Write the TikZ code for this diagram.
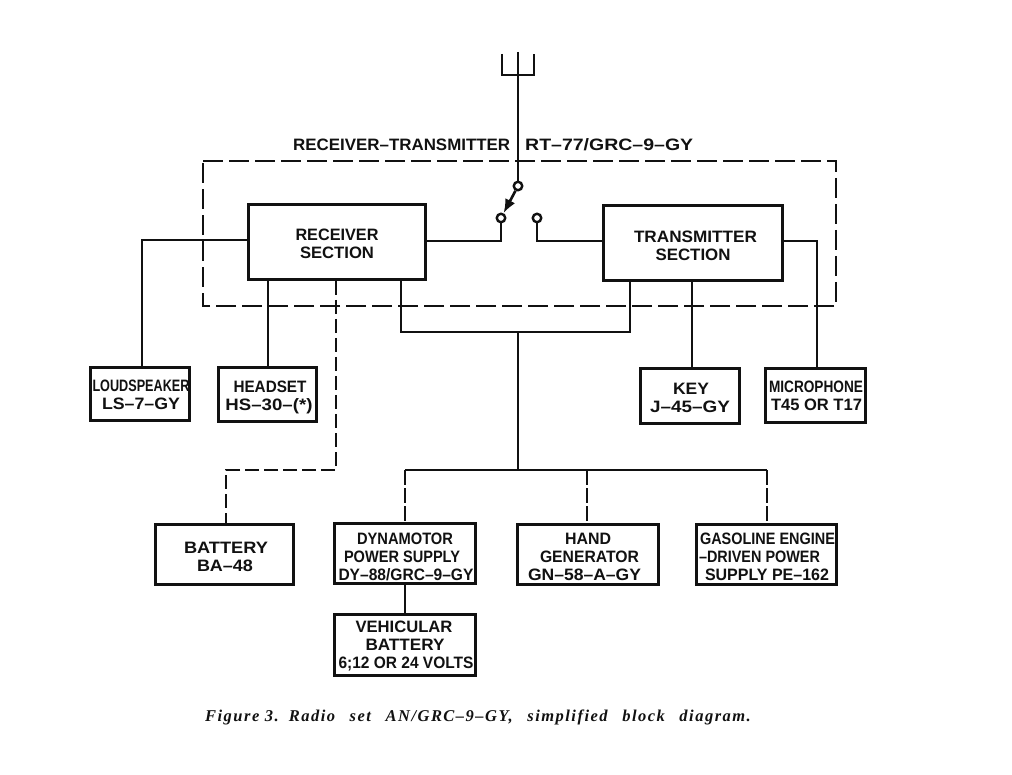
\documentclass[tikz,border=0pt]{standalone}
\usepackage{fontspec}
\usepackage{graphicx}
\setmainfont{Liberation Sans}
\newfontfamily\capfont[LetterSpace=9]{Liberation Serif}
\usetikzlibrary{arrows.meta}
\newcommand\fw[2]{\resizebox{#1pt}{\height}{#2}}
% one centred text line: width, offset from the box centre, text
\newcommand\tline[3]{\makebox[0pt][c]{\hspace*{\dimexpr 2\dimexpr #2pt\relax\relax}\fw{#1}{#3}}}
\definecolor{ink}{HTML}{111111}
\tikzset{
  box/.style={draw=ink,line width=3pt,minimum width=#1,inner sep=0pt,align=center,font=\bfseries\fontsize{16.5}{18}\selectfont,text=ink,anchor=north west},
  wire/.style={draw=ink,line width=2.2pt,line join=miter},
  dashwire/.style={draw=ink,line width=2.2pt,dash pattern=on 14pt off 5pt},
  dashdrop/.style={draw=ink,line width=2pt,dash pattern=on 15pt off 3pt},
  frame/.style={draw=ink,line width=2.6pt,dash pattern=on 20pt off 6pt},
  contact/.style={circle,draw=ink,line width=2.4pt,fill=white,minimum size=8.5pt,inner sep=0pt},
  lbl/.style={text=ink,inner sep=0pt,font=\bfseries\fontsize{16.5}{18}\selectfont}
}
\begin{document}
\begin{tikzpicture}[x=1pt,y=-1pt]
\useasboundingbox (0,0) rectangle (1012,775);
\fill[white] (0,0) rectangle (1012,775);
% enclosure
\coordinate (fa) at (203,161);
\coordinate (fb) at (836,161);
\coordinate (fc) at (836,306);
\coordinate (fd) at (203,306);
\draw[frame] (fa) -- (fb) -- (fc) -- (fd) -- cycle;
\node[lbl,anchor=west] (rtlabel) at (293,145) {\fw{217}{RECEIVER–TRANSMITTER}\hspace{15pt}\fw{168}{RT–77/GRC–9–GY}};
% boxes
\node[box=177pt,minimum height=75pt] (rec) at (247,203) {\rule{0pt}{16pt}\tline{83}{0}{RECEIVER}\\\tline{74}{0}{SECTION}};
\node[box=179pt,minimum height=75pt] (tra) at (602,204) {\rule{0pt}{18pt}\tline{123}{2.5}{TRANSMITTER}\\\tline{75}{0}{SECTION}};
\node[box=99pt,minimum height=53pt] (lsp) at (89,366) {\rule{0pt}{14pt}\tline{97}{1}{LOUDSPEAKER}\\\tline{78}{1}{LS–7–GY}};
\node[box=98pt,minimum height=54pt] (hst) at (217,366) {\rule{0pt}{18pt}\tline{73}{2.5}{HEADSET}\\\tline{87}{1.5}{HS–30–(*)}};
\node[box=99pt,minimum height=55pt] (key) at (639,367) {\rule{0pt}{15pt}\tline{36}{1}{KEY}\\\tline{80}{0}{J–45–GY}};
\node[box=100pt,minimum height=54pt] (mic) at (764,367) {\tline{94}{0.5}{MICROPHONE}\\\tline{91}{1}{T45 OR T17}};
\node[box=138pt,minimum height=60pt] (bat) at (154,523) {\rule{0pt}{16pt}\tline{84}{1.5}{BATTERY}\\\tline{56}{0.5}{BA–48}};
\node[box=141pt,minimum height=60pt] (dyn) at (333,522) {\rule{0pt}{18pt}\tline{96}{0}{DYNAMOTOR}\\\tline{116}{-3}{POWER SUPPLY}\\\tline{135}{1}{DY–88/GRC–9–GY}};
\node[box=141pt,minimum height=60pt] (han) at (516,523) {\rule{0pt}{16pt}\tline{46}{0}{HAND}\\\tline{99}{1.5}{GENERATOR}\\\tline{113}{-3.5}{GN–58–A–GY}};
\node[box=140pt,minimum height=60pt] (gas) at (695,523) {\rule{0pt}{16pt}\tline{135}{1}{GASOLINE ENGINE}\\\tline{121}{-7}{–DRIVEN POWER}\\\tline{124}{0.5}{SUPPLY PE–162}};
\node[box=141pt,minimum height=61pt] (veh) at (333,613) {\rule{0pt}{14pt}\tline{97}{-1}{VEHICULAR}\\\tline{79}{0}{BATTERY}\\\tline{135}{1}{6;12 OR 24 VOLTS}};
% antenna
\coordinate (antl) at (502,54);
\coordinate (antr) at (534,54);
\coordinate (antm) at (518,52);
\draw[wire] (antl) -- (502,75) -- (534,75) -- (antr);
% switch contacts
\node[contact] (sw) at (518,186) {};
\node[contact] (swr) at (501,218) {};
\node[contact] (swt) at (537,218) {};
\draw[wire] (antm) -- (sw);
\draw[wire,line width=2.6pt,-{Latex[length=14pt,width=11pt]}] (sw) -- (swr);
\draw[wire] (rec.east |- 0,241) -- (501,241) -- (swr);
\draw[wire] (tra.west |- 0,241) -- (537,241) -- (swt);
% receiver outputs
\draw[wire] (rec.west |- 0,240) -- (142,240) -- (lsp.north -| 142,0);
\draw[wire] (rec.south -| 268,0) -- (hst.north -| 268,0);
\draw[dashwire] (rec.south -| 336,0) -- (336,470) -- (226,470) -- (bat.north -| 226,0);
% power bus
\draw[wire] (rec.south -| 401,0) -- (401,332) -- (630,332) -- (tra.south -| 630,0);
\coordinate (bus) at (518,470);
\draw[wire] (518,332) -- (bus);
\draw[wire] (405,470) -- (767,470);
\draw[dashdrop] (405,470) -- (dyn.north -| 405,0);
\draw[dashdrop] (587,470) -- (han.north -| 587,0);
\draw[dashdrop] (767,470) -- (gas.north -| 767,0);
\draw[wire] (dyn.south -| 405,0) -- (veh.north -| 405,0);
% transmitter outputs
\draw[wire] (tra.south -| 692,0) -- (key.north -| 692,0);
\draw[wire] (tra.east |- 0,241) -- (817,241) -- (mic.north -| 817,0);
% caption
\node[anchor=base west,inner sep=0pt,text=ink,font=\capfont\bfseries\itshape\fontsize{16.5}{18}\selectfont] (cap) at (205,721) {Figure 3.\hspace{10pt}Radio\hspace{9pt} set\hspace{9pt} AN/GRC–9–GY,\hspace{9pt} simplified\hspace{9pt} block\hspace{9pt} diagram.};
\end{tikzpicture}
\end{document}
